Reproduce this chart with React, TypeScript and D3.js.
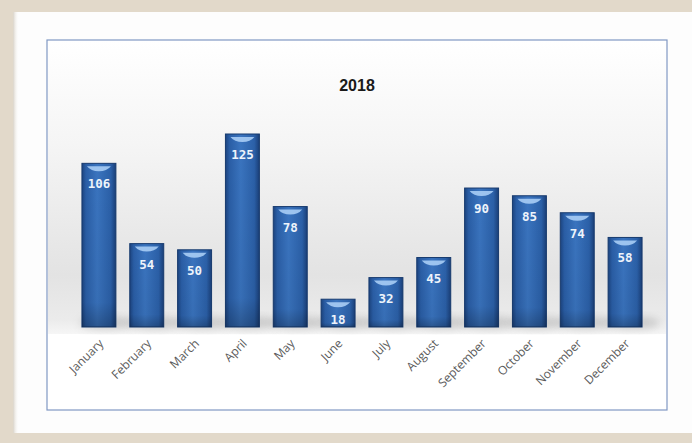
import React from "react";
import * as d3 from "d3";

const months = ["January","February","March","April","May","June","July","August","September","October","November","December"];
const values = [106, 54, 50, 125, 78, 18, 32, 45, 90, 85, 74, 58];
const title = "2018";

const W = 692, H = 443;
const box = { x0: 47, y0: 40, x1: 667, y1: 410 };
const baseY = 327;

export default function App() {
  const x = d3.scaleBand<string>().domain(months).range([75, 649]).paddingInner(0.29).paddingOuter(0.145);
  const y = d3.scaleLinear().domain([0, 125]).range([baseY, 134]);
  const bw = x.bandwidth();
  return (
    <div style={{ position: "absolute", left: 0, top: 0 }}>
      <svg width={W} height={H} style={{ display: "block" }}>
        <defs>
          <linearGradient id="bg" x1="0" y1="0" x2="0" y2="1">
            <stop offset="0" stopColor="#ffffff" />
            <stop offset="0.35" stopColor="#f5f5f5" />
            <stop offset="0.8" stopColor="#e3e3e3" />
            <stop offset="0.95" stopColor="#ebebeb" />
            <stop offset="1" stopColor="#f6f6f6" />
          </linearGradient>
          <linearGradient id="bar" x1="0" y1="0" x2="1" y2="0">
            <stop offset="0" stopColor="#1c4480" />
            <stop offset="0.12" stopColor="#2a5ea6" />
            <stop offset="0.45" stopColor="#3a74bf" />
            <stop offset="0.85" stopColor="#2b60a8" />
            <stop offset="1" stopColor="#1a3f78" />
          </linearGradient>
          <linearGradient id="barv" x1="0" y1="0" x2="0" y2="1">
            <stop offset="0" stopColor="#000" stopOpacity="0" />
            <stop offset="0.85" stopColor="#000" stopOpacity="0.05" />
            <stop offset="1" stopColor="#000" stopOpacity="0.25" />
          </linearGradient>
          <linearGradient id="frameShadow" x1="0" y1="0" x2="1" y2="0">
            <stop offset="0" stopColor="#d9d3c8" />
            <stop offset="1" stopColor="#ffffff" stopOpacity="0" />
          </linearGradient>
          <filter id="blur" x="-50%" y="-50%" width="200%" height="200%">
            <feGaussianBlur stdDeviation="4" />
          </filter>
        </defs>
        <rect x={0} y={0} width={W} height={H} fill="#e2d9ca" />
        <rect x={13} y={12} width={W - 13} height={421} fill="#fdfdfd" />
        <rect x={13} y={12} width={6} height={421} fill="url(#frameShadow)" />
        <rect x={box.x0} y={box.y0} width={box.x1 - box.x0} height={box.y1 - box.y0} fill="#ffffff" />
        <rect x={box.x0 + 1} y={box.y0 + 1} width={box.x1 - box.x0 - 2} height={baseY + 6 - box.y0} fill="url(#bg)" />
        <rect x={box.x0} y={box.y0} width={box.x1 - box.x0} height={box.y1 - box.y0} fill="none" stroke="#8098c4" strokeWidth={1.2} />
        <text x={(box.x0 + box.x1) / 2} y={91} textAnchor="middle" fontFamily="Liberation Sans, Arial, sans-serif" fontWeight="bold" fontSize={16} fill="#1a1a1a">{title}</text>
        {months.map((m, i) => {
          const bx = x(m)!;
          const by = y(values[i]);
          const h = baseY - by;
          const cx = bx + bw / 2;
          return (
            <g key={m}>
              <ellipse cx={cx + 8} cy={baseY - 4} rx={bw * 0.8} ry={6} fill="#9a9a9a" opacity={0.45} filter="url(#blur)" />
              <rect x={bx} y={by} width={bw} height={h} fill="url(#bar)" stroke="#173a6e" strokeWidth={1} />
              <rect x={bx} y={by} width={bw} height={h} fill="url(#barv)" />
              <path d={`M${bx + 5},${by + 3} L${bx + bw - 5},${by + 3} Q${cx + 8},${by + 8} ${cx},${by + 8} Q${cx - 8},${by + 8} ${bx + 5},${by + 3} Z`} fill="#a9cdf5" opacity={0.9} />
              <text x={cx} y={by + 25} textAnchor="middle" fontFamily="DejaVu Sans Mono, monospace" fontWeight="bold" fontSize={12.5} fill="#eef4fb">{values[i]}</text>
              <text transform={`translate(${cx + 3},${baseY + 15}) rotate(-45)`} textAnchor="end" dominantBaseline="middle" fontFamily="Open Sans, Liberation Sans, sans-serif" fontSize={12} fill="#5a5a5a">{m}</text>
            </g>
          );
        })}
      </svg>
    </div>
  );
}
